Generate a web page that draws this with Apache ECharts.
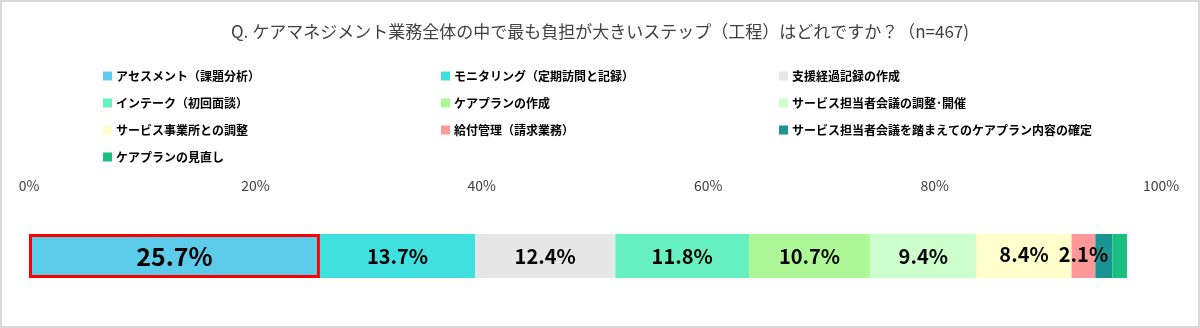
<!DOCTYPE html>
<html>
<head>
<meta charset="utf-8">
<script src="https://cdn.jsdelivr.net/npm/echarts@6/dist/echarts.min.js"></script>
<style>
  html, body { margin: 0; padding: 0; background: #fff; }
  #chart { width: 1200px; height: 328px; box-sizing: border-box; border: 2px solid #D9D9D9; }
</style>
</head>
<body>
<div id="chart"></div>
<script>
// Steps of care-management work, in stacking order
const steps = [
  'アセスメント（課題分析）',
  'モニタリング（定期訪問と記録）',
  '支援経過記録の作成',
  'インテーク（初回面談）',
  'ケアプランの作成',
  'サービス担当者会議の調整･開催',
  'サービス事業所との調整',
  '給付管理（請求業務）',
  'サービス担当者会議を踏まえてのケアプラン内容の確定',
  'ケアプランの見直し'
];
// Share of respondents (%) for each step
const shares = [25.7, 13.7, 12.4, 11.8, 10.7, 9.4, 8.4, 2.1, 1.5, 1.3];
const colors = ['#5DCCEB', '#40E0DF', '#E6E6E6', '#67F1C3', '#ADF797',
                '#CCFFCC', '#FFFFCC', '#FF9999', '#1B9494', '#19BE80'];
const showLabel = [true, true, true, true, true, true, true, true, false, false];
const axisTicks = [0, 20, 40, 60, 80, 100];
const title = 'Q. ケアマネジメント業務全体の中で最も負担が大きいステップ（工程）はどれですか？（n=467)';

const FONT = '"Noto Sans CJK JP", "Noto Sans", sans-serif';

// legend columns (row-major order of the steps, three per row)
const legendCols = [0, 1, 2].map(c => steps.filter((_, i) => i % 3 === c));
const legendX = [98, 436, 774];

const series = steps.map((name, i) => ({
  name: name,
  type: 'bar',
  stack: 'total',
  barWidth: 44,
  data: [shares[i]],
  itemStyle: i === 0
    ? { color: colors[i], borderColor: '#FF0000', borderWidth: 3 }
    : { color: colors[i] },
  label: {
    show: showLabel[i],
    position: 'inside',
    formatter: p => p.value.toFixed(1) + '%',
    color: '#000',
    fontFamily: FONT,
    fontWeight: 'bold',
    fontSize: i === 0 ? 25 : 20,
    offset: (i === 6 || i === 7) ? [0, -2] : [0, 0]
  },
  emphasis: { disabled: true },
  z: i === 0 ? 3 : 2
}));

const chart = echarts.init(document.getElementById('chart'), null, { renderer: 'canvas' });
chart.setOption({
  animation: false,
  color: colors,
  title: {
    text: title,
    left: 'center',
    top: 16,
    textStyle: { fontFamily: FONT, fontSize: 17, fontWeight: 'normal', color: '#404040' }
  },
  legend: legendCols.map((col, c) => ({
    data: col,
    orient: 'vertical',
    left: legendX[c] - 2,
    top: 61,
    itemWidth: 9,
    itemHeight: 9,
    itemGap: 11,
    icon: 'rect',
    selectedMode: false,
    itemStyle: { borderWidth: 0 },
    textStyle: { fontFamily: FONT, fontSize: 12, fontWeight: 'bold', color: '#000', lineHeight: 16, padding: [0, 0, 0, -1] }
  })),
  grid: { left: 27, right: 37, top: 232, height: 44, containLabel: false },
  xAxis: {
    type: 'value',
    position: 'top',
    min: axisTicks[0],
    max: axisTicks[axisTicks.length - 1],
    interval: axisTicks[1] - axisTicks[0],
    axisLine: { show: false },
    axisTick: { show: false },
    splitLine: { show: false },
    axisLabel: {
      formatter: v => v + '%',
      color: '#404040',
      fontFamily: FONT,
      fontSize: 14,
      margin: 41
    }
  },
  yAxis: {
    type: 'category',
    data: [''],
    inverse: true,
    axisLine: { show: false },
    axisTick: { show: false },
    axisLabel: { show: false }
  },
  series: series
});
</script>
</body>
</html>
